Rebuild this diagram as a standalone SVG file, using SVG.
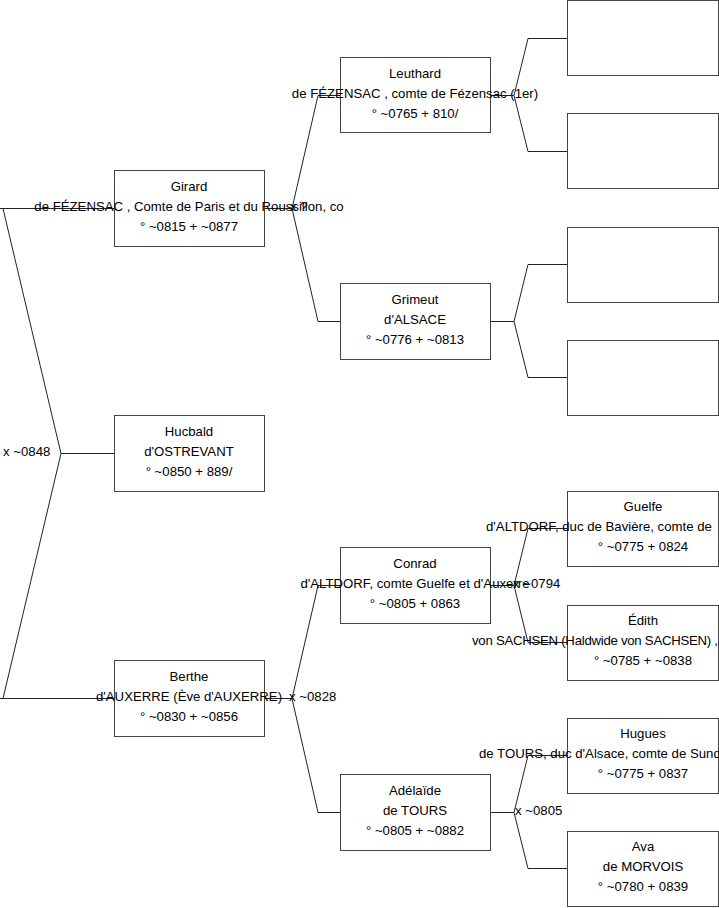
<svg xmlns="http://www.w3.org/2000/svg" width="719" height="908" viewBox="0 0 719 908">
<style>
.box{fill:#fff;stroke:#444;stroke-width:1}
.con{fill:none;stroke:#222;stroke-width:1}
text{font-family:"Liberation Sans",Arial,sans-serif;font-size:13.2px;fill:#000}
.c{text-anchor:middle}
</style>
<rect width="719" height="908" fill="#fff"/>
<g id="connectors">
<path class="con" d="M0,208.5H114.5M3,208.5L61,453.5L3,698.5M61,453.5H114.5M0,698.5H114.5"/>
<path class="con" d="M264.5,208.5H292M318,95.5L292,208.5L318,321.5M318,95.5H340.5M318,321.5H340.5"/>
<path class="con" d="M264.5,698.5H292M318,585.5L292,698.5L318,812.5M318,585.5H340.5M318,812.5H340.5"/>
<path class="con" d="M490.5,95.5H514M528,38.5L514,95.5L528,151.5M528,38.5H567.5M528,151.5H567.5"/>
<path class="con" d="M490.5,321.5H514M528,264.5L514,321.5L528,377.5M528,264.5H567.5M528,377.5H567.5"/>
<path class="con" d="M490.5,585.5H514M528,528.5L514,585.5L528,642.5M528,528.5H567.5M528,642.5H567.5"/>
<path class="con" d="M490.5,812.5H514M528,755.5L514,812.5L528,868.5M528,755.5H567.5M528,868.5H567.5"/>
<text x="3" y="456">x ~0848</text>
<text x="290" y="211">x ?</text>
<text x="289" y="701">x ~0828</text>
<text x="513" y="588">x ~0794</text>
<text x="515" y="815">x ~0805</text>
</g>
<g id="girard"><rect class="box" x="114.5" y="170.5" width="150" height="76"/>
<text class="c" x="189" y="191">Girard</text>
<text class="c" x="189" y="211">de FÉZENSAC , Comte de Paris et du Roussillon, co</text>
<text class="c" x="189" y="231">° ~0815 + ~0877</text></g>
<g id="hucbald"><rect class="box" x="114.5" y="415.5" width="150" height="76"/>
<text class="c" x="189" y="436">Hucbald</text>
<text class="c" x="189" y="456">d'OSTREVANT</text>
<text class="c" x="189" y="476">° ~0850 + 889/</text></g>
<g id="berthe"><rect class="box" x="114.5" y="660.5" width="150" height="76"/>
<text class="c" x="189" y="681">Berthe</text>
<text class="c" x="189" y="701">d'AUXERRE (Ève d'AUXERRE)</text>
<text class="c" x="189" y="721">° ~0830 + ~0856</text></g>
<g id="leuthard"><rect class="box" x="340.5" y="57.5" width="150" height="75"/>
<text class="c" x="415" y="78">Leuthard</text>
<text class="c" x="415" y="98">de FÉZENSAC , comte de Fézensac (1er)</text>
<text class="c" x="415" y="118">° ~0765 + 810/</text></g>
<g id="grimeut"><rect class="box" x="340.5" y="283.5" width="150" height="76"/>
<text class="c" x="415" y="304">Grimeut</text>
<text class="c" x="415" y="324">d'ALSACE</text>
<text class="c" x="415" y="344">° ~0776 + ~0813</text></g>
<g id="conrad"><rect class="box" x="340.5" y="547.5" width="150" height="76"/>
<text class="c" x="415" y="568">Conrad</text>
<text class="c" x="415" y="588">d'ALTDORF, comte Guelfe et d'Auxerre</text>
<text class="c" x="415" y="608">° ~0805 + 0863</text></g>
<g id="adelaide"><rect class="box" x="340.5" y="774.5" width="150" height="76"/>
<text class="c" x="415" y="795">Adélaïde</text>
<text class="c" x="415" y="815">de TOURS</text>
<text class="c" x="415" y="835">° ~0805 + ~0882</text></g>
<g id="p1"><rect class="box" x="567.5" y="0.5" width="151" height="75"/></g>
<g id="p2"><rect class="box" x="567.5" y="113.5" width="151" height="75"/></g>
<g id="p3"><rect class="box" x="567.5" y="227.5" width="151" height="75"/></g>
<g id="p4"><rect class="box" x="567.5" y="340.5" width="151" height="75"/></g>
<g id="guelfe"><rect class="box" x="567.5" y="491.5" width="151" height="75"/>
<text class="c" x="643" y="511">Guelfe</text>
<text x="486" y="531">d'ALTDORF, duc de Bavière, comte de</text>
<text class="c" x="643" y="551">° ~0775 + 0824</text></g>
<g id="edith"><rect class="box" x="567.5" y="605.5" width="151" height="75"/>
<text class="c" x="643" y="625">Édith</text>
<text x="472" y="645" textLength="246">von SACHSEN (Haldwide von SACHSEN) ,</text>
<text class="c" x="643" y="665">° ~0785 + ~0838</text></g>
<g id="hugues"><rect class="box" x="567.5" y="718.5" width="151" height="75"/>
<text class="c" x="643" y="738">Hugues</text>
<text x="479" y="758">de TOURS, duc d'Alsace, comte de Sundg</text>
<text class="c" x="643" y="778">° ~0775 + 0837</text></g>
<g id="ava"><rect class="box" x="567.5" y="831.5" width="151" height="75"/>
<text class="c" x="643" y="851">Ava</text>
<text class="c" x="643" y="871">de MORVOIS</text>
<text class="c" x="643" y="891">° ~0780 + 0839</text></g>
</svg>
